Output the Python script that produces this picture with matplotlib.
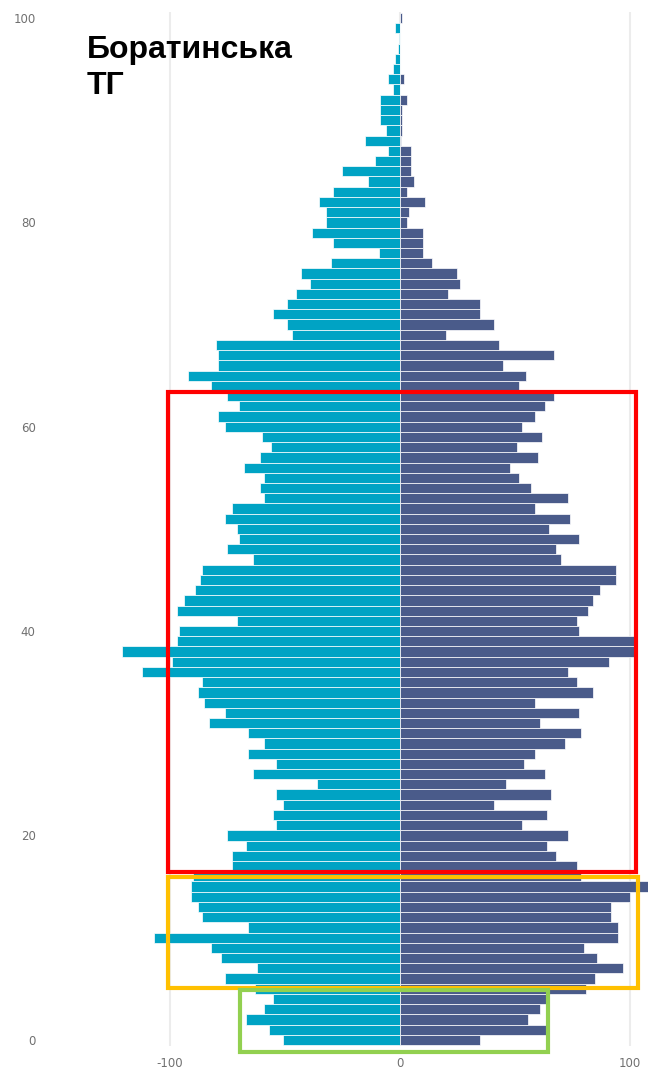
import numpy as np
import matplotlib.pyplot as plt
from matplotlib.patches import Rectangle

# вік 0..100
ages = np.arange(0, 101)

# жінки (ліва частина), чоловіки (права частина)
female = [51, 57, 67, 59, 55, 63, 76, 62, 78, 82,
          107, 66, 86, 88, 91, 91, 90, 73, 73, 67,
          75, 54, 55, 51, 54, 36, 64, 54, 66, 59,
          66, 83, 76, 85, 88, 86, 112, 99, 121, 97,
          96, 71, 97, 94, 89, 87, 86, 64, 75, 70,
          71, 76, 73, 59, 61, 59, 68, 61, 56, 60,
          76, 79, 70, 75, 82, 92, 79, 79, 80, 47,
          49, 55, 49, 45, 39, 43, 30, 9, 29, 38,
          32, 32, 35, 29, 14, 25, 11, 5, 15, 6,
          8.5, 8.5, 8.5, 2.9, 5.3, 3, 2, 1, 0.3, 2,
          0]
male = [35, 64, 56, 61, 64, 81, 85, 97, 86, 80,
        95, 95, 92, 92, 100, 108, 79, 77, 68, 64,
        73, 53, 64, 41, 66, 46, 63, 54, 59, 72,
        79, 61, 78, 59, 84, 77, 73, 91, 102, 102,
        78, 77, 82, 84, 87, 94, 94, 70, 68, 78,
        65, 74, 59, 73, 57, 52, 48, 60, 51, 62,
        53, 59, 63, 67, 52, 55, 45, 67, 43, 20,
        41, 35, 35, 21, 26, 25, 14, 10, 10, 10,
        3, 4, 11, 3, 6, 5, 5, 5, 0.5, 1,
        1, 1, 3, 0, 1.8, 0, 0, 0, 0, 0,
        1]

xticks = [-100, 0, 100]
yticks = [0, 20, 40, 60, 80, 100]
title = "Боратинська\nТГ"

# рамки-виділення: (вік від, вік до, колір)
boxes = [(16.45, 63.45, "#ff0000"), (5.1, 15.95, "#ffc000"), (-1.2, 4.9, "#92d050")]
box_x = [(-100.9, 102.6), (-100.9, 103.5), (-69.6, 64.3)]

fig = plt.figure(figsize=(6.48, 10.73), dpi=100)
ax = fig.add_axes([0.085, 0.0252, 0.915, 0.9637])

ax.barh(ages, -np.array(female), height=1.0, color="#00a3c4",
        edgecolor="white", linewidth=0.5, zorder=2)
ax.barh(ages, male, height=1.0, color="#4a5b8a",
        edgecolor="white", linewidth=0.5, zorder=2)

ax.set_xlim(-150, 108)
ax.set_ylim(-0.6, 100.6)
ax.set_xticks(xticks)
ax.set_xticklabels([str(v) for v in xticks])
ax.set_yticks(yticks)
ax.tick_params(axis="both", length=0, labelsize=8.5, labelcolor="#707070")
ax.tick_params(axis="x", pad=8)
ax.tick_params(axis="y", pad=14)
for s in ax.spines.values():
    s.set_visible(False)
ax.grid(axis="x", color="#ececec", linewidth=1.5, zorder=0)

for (y0, y1, c), (x0, x1) in zip(boxes, box_x):
    ax.add_patch(Rectangle((x0, y0), x1 - x0, y1 - y0, fill=False,
                           edgecolor=c, linewidth=3, zorder=5, clip_on=False))

fig.text(0.134, 0.9674, title, fontsize=23, fontweight="bold",
         family="Liberation Sans", va="top", ha="left", linespacing=1.25)

fig.savefig("out.png", dpi=100)
